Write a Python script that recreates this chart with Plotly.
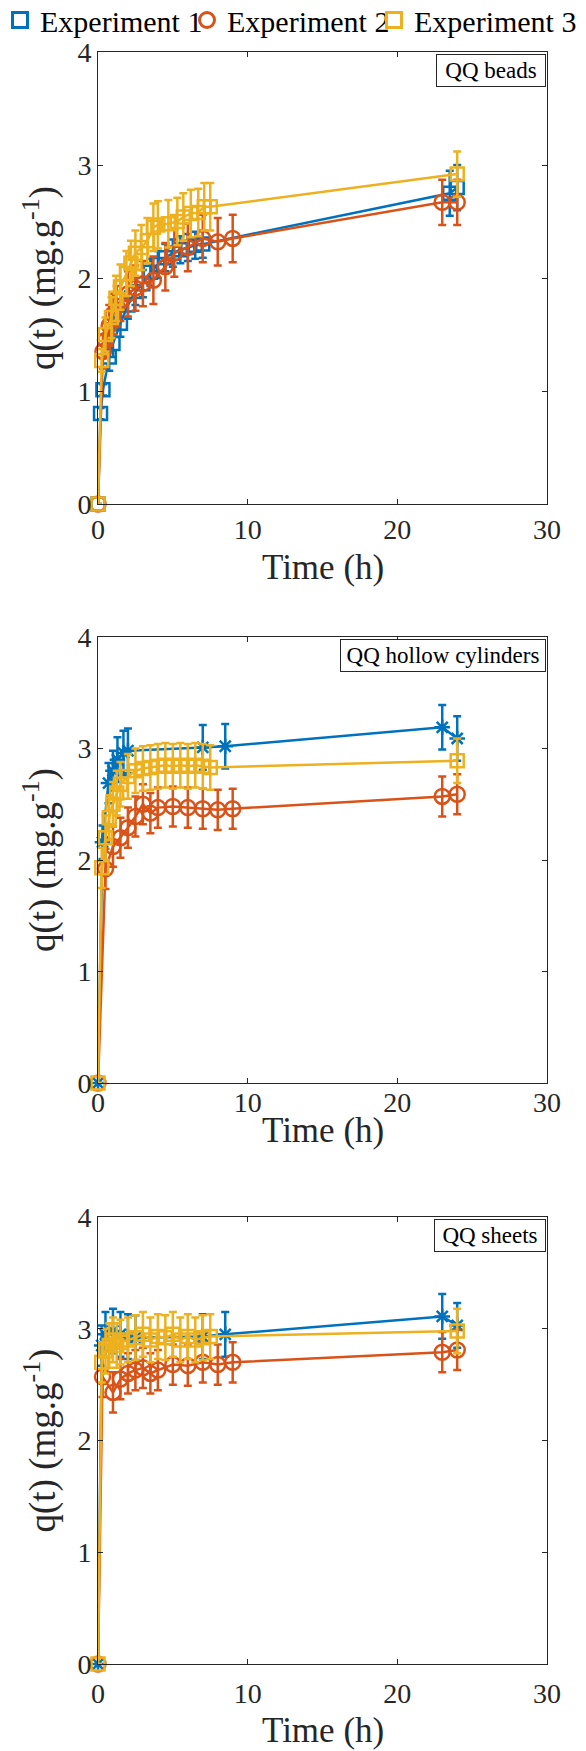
import plotly.graph_objects as go

# ---------------- data ----------------
series_names = ["Experiment 1", "Experiment 2", "Experiment 3"]
panel_labels = ["QQ beads", "QQ hollow cylinders", "QQ sheets"]
x_title = "Time (h)"
y_title = "q(t) (mg.g<sup>-1</sup>)"
x_ticks = [0, 10, 20, 30]
y_ticks = [0, 1, 2, 3, 4]

# Panel 1: QQ beads
beads_e1_t = [0, 0.17, 0.33, 0.75, 1.0, 1.5, 2.0, 2.5, 3.0, 3.5, 4.0, 4.5, 5.0, 5.5, 6.0, 6.5, 7.0, 23.5, 24.0]
beads_e1_q = [0, 0.80, 1.01, 1.30, 1.42, 1.60, 1.76, 1.88, 1.95, 2.05, 2.12, 2.18, 2.22, 2.25, 2.27, 2.29, 2.30, 2.75, 2.80]
beads_e1_err = [0, 0.05, 0.05, 0.12, 0.12, 0.12, 0.12, 0.12, 0.12, 0.12, 0.12, 0.12, 0.12, 0.12, 0.12, 0.12, 0.12, 0.20, 0.20]

beads_e2_t = [0, 0.33, 0.5, 0.75, 1.0, 1.25, 1.5, 2.0, 2.5, 3.0, 3.7, 4.5, 5.1, 6.0, 7.0, 8.0, 9.0, 23.0, 24.0]
beads_e2_q = [0, 1.35, 1.45, 1.58, 1.68, 1.75, 1.80, 1.86, 1.91, 1.95, 1.98, 2.10, 2.22, 2.27, 2.35, 2.32, 2.35, 2.67, 2.67]
beads_e2_err = [0, 0.15, 0.15, 0.18, 0.18, 0.18, 0.18, 0.20, 0.20, 0.20, 0.21, 0.21, 0.21, 0.21, 0.21, 0.21, 0.21, 0.20, 0.20]

beads_e3_t = [0, 0.25, 0.5, 0.9, 1.2, 1.5, 1.9, 2.2, 2.5, 2.9, 3.3, 3.7, 4.0, 4.7, 5.3, 5.7, 6.2, 6.7, 7.1, 7.5, 24.0]
beads_e3_q = [0, 1.27, 1.50, 1.65, 1.82, 1.92, 2.04, 2.13, 2.22, 2.27, 2.33, 2.45, 2.47, 2.48, 2.50, 2.54, 2.57, 2.58, 2.63, 2.63, 2.92]
beads_e3_err = [0, 0.10, 0.15, 0.18, 0.20, 0.20, 0.20, 0.20, 0.20, 0.20, 0.20, 0.21, 0.21, 0.21, 0.21, 0.21, 0.21, 0.21, 0.21, 0.21, 0.20]

# Panel 2: QQ hollow cylinders
hollow_e1_t = [0, 0.3, 0.7, 1.0, 1.3, 1.7, 2.0, 7.0, 8.5, 23.0, 24.0]
hollow_e1_q = [0, 2.16, 2.69, 2.80, 2.90, 2.96, 2.98, 3.01, 3.02, 3.19, 3.09]
hollow_e1_err = [0, 0.15, 0.18, 0.18, 0.20, 0.20, 0.20, 0.20, 0.20, 0.20, 0.20]

hollow_e2_t = [0, 0.5, 1.0, 1.5, 2.0, 2.5, 3.0, 3.5, 4.0, 5.0, 6.0, 7.0, 8.0, 9.0, 23.0, 24.0]
hollow_e2_q = [0, 1.92, 2.12, 2.20, 2.29, 2.39, 2.50, 2.42, 2.47, 2.48, 2.47, 2.46, 2.45, 2.46, 2.57, 2.59]
hollow_e2_err = [0, 0.18, 0.18, 0.18, 0.18, 0.18, 0.18, 0.18, 0.18, 0.18, 0.18, 0.18, 0.18, 0.18, 0.18, 0.18]

hollow_e3_t = [0, 0.25, 0.5, 0.75, 1.0, 1.25, 1.5, 2.0, 2.5, 3.0, 3.5, 4.0, 4.5, 5.0, 5.5, 6.0, 6.5, 7.0, 7.5, 24.0]
hollow_e3_q = [0, 1.93, 2.20, 2.38, 2.50, 2.60, 2.68, 2.75, 2.80, 2.82, 2.83, 2.84, 2.85, 2.84, 2.85, 2.84, 2.85, 2.84, 2.83, 2.89]
hollow_e3_err = [0, 0.18, 0.20, 0.20, 0.20, 0.20, 0.20, 0.20, 0.20, 0.20, 0.20, 0.20, 0.20, 0.20, 0.20, 0.20, 0.20, 0.20, 0.20, 0.20]

# Panel 3: QQ sheets
sheets_e1_t = [0, 0.25, 0.5, 1.0, 1.5, 2.0, 2.5, 7.0, 8.5, 23.0, 24.0]
sheets_e1_q = [0, 2.85, 2.95, 2.98, 2.95, 2.93, 2.92, 2.93, 2.95, 3.11, 3.03]
sheets_e1_err = [0, 0.18, 0.20, 0.20, 0.20, 0.20, 0.20, 0.20, 0.20, 0.20, 0.20]

sheets_e2_t = [0, 0.3, 1.0, 1.5, 2.0, 2.5, 3.0, 3.5, 4.0, 5.0, 6.0, 7.0, 8.0, 9.0, 23.0, 24.0]
sheets_e2_q = [0, 2.57, 2.43, 2.55, 2.60, 2.63, 2.65, 2.60, 2.63, 2.68, 2.67, 2.70, 2.68, 2.70, 2.79, 2.81]
sheets_e2_err = [0, 0.18, 0.18, 0.18, 0.18, 0.18, 0.18, 0.18, 0.18, 0.18, 0.18, 0.18, 0.18, 0.18, 0.18, 0.18]

sheets_e3_t = [0, 0.25, 0.5, 0.75, 1.0, 1.25, 1.5, 2.0, 2.5, 3.0, 3.5, 4.0, 4.5, 5.0, 5.5, 6.0, 6.5, 7.0, 7.5, 24.0]
sheets_e3_q = [0, 2.70, 2.80, 2.85, 2.90, 2.85, 2.88, 2.90, 2.92, 2.95, 2.90, 2.93, 2.92, 2.95, 2.90, 2.93, 2.90, 2.92, 2.93, 2.98]
sheets_e3_err = [0, 0.18, 0.20, 0.20, 0.20, 0.20, 0.20, 0.20, 0.20, 0.20, 0.20, 0.20, 0.20, 0.20, 0.20, 0.20, 0.20, 0.20, 0.20, 0.20]

# ---------------- styling ----------------
colors = ["#0072BD", "#D95319", "#EDB120"]
FONT = "Liberation Serif"
AXC = "#262626"
W, H = 586, 1751

panels = [
    [(beads_e1_t, beads_e1_q, beads_e1_err, "square-open"),
     (beads_e2_t, beads_e2_q, beads_e2_err, "circle-open"),
     (beads_e3_t, beads_e3_q, beads_e3_err, "square-open")],
    [(hollow_e1_t, hollow_e1_q, hollow_e1_err, "asterisk-open"),
     (hollow_e2_t, hollow_e2_q, hollow_e2_err, "circle-open"),
     (hollow_e3_t, hollow_e3_q, hollow_e3_err, "square-open")],
    [(sheets_e1_t, sheets_e1_q, sheets_e1_err, "asterisk-open"),
     (sheets_e2_t, sheets_e2_q, sheets_e2_err, "circle-open"),
     (sheets_e3_t, sheets_e3_q, sheets_e3_err, "square-open")],
]

# pixel geometry of the three plot areas (top, bottom)
x_left, x_right = 98, 547
rows_px = [(52, 504), (637, 1083), (1217, 1664)]
xtitle_off = [63, 47, 66]      # px below axis to title centre
xlabel_standoff = [0, -6, 4]
legend_entry_w = [142, 142, 168]

fig = go.Figure()

for p, series in enumerate(panels):
    ax = "" if p == 0 else str(p + 1)
    for s, (t, q, e, sym) in enumerate(series):
        fig.add_trace(go.Scatter(
            x=t, y=q, mode="lines+markers",
            xaxis="x" + ax, yaxis="y" + ax,
            line=dict(color=colors[s], width=2.5),
            marker=dict(symbol=sym, size=15 if "circle" in sym else 13,
                        color=colors[s], line=dict(color=colors[s], width=2.5)),
            error_y=dict(type="data", array=e, visible=True, color=colors[s],
                         thickness=2.5, width=4),
            cliponaxis=False, showlegend=False, name=series_names[s],
        ))

# legend-only entries (marker symbols like the reference legend)
legend_syms = ["square-open", "circle-open", "square-open"]
for s in range(3):
    fig.add_trace(go.Scatter(
        x=[None], y=[None], mode="markers", name=series_names[s],
        marker=dict(symbol=legend_syms[s], size=15, color=colors[s],
                    line=dict(color=colors[s], width=3)),
        showlegend=True, legendwidth=legend_entry_w[s],
    ))

layout = dict(
    width=W, height=H,
    margin=dict(l=0, r=0, t=0, b=0, autoexpand=False),
    paper_bgcolor="white", plot_bgcolor="white",
    font=dict(family=FONT, color=AXC, size=28),
    legend=dict(orientation="h", x=0, xanchor="left", y=1 + 6 / H, yanchor="top",
                font=dict(family=FONT, size=30, color="black"),
                itemwidth=30, bgcolor="rgba(0,0,0,0)"),
)

for p in range(3):
    top, bot = rows_px[p]
    ax = "" if p == 0 else str(p + 1)
    layout["xaxis" + ax] = dict(
        domain=[x_left / W, x_right / W], anchor="y" + ax,
        range=[0, 30], tickvals=x_ticks, ticks="inside", ticklen=5, tickwidth=1,
        tickcolor=AXC, showline=True, linecolor=AXC, linewidth=1, mirror="ticks",
        showgrid=False, zeroline=False, ticklabelstandoff=xlabel_standoff[p],
        tickfont=dict(family=FONT, size=28, color=AXC),
    )
    layout["yaxis" + ax] = dict(
        domain=[1 - bot / H, 1 - top / H], anchor="x" + ax,
        range=[0, 4], tickvals=y_ticks, ticks="inside", ticklen=5, tickwidth=1,
        tickcolor=AXC, showline=True, linecolor=AXC, linewidth=1, mirror="ticks",
        showgrid=False, zeroline=False,
        tickfont=dict(family=FONT, size=28, color=AXC),
    )

fig.update_layout(**layout)

box_widths = [104, 200, 106]
for p in range(3):
    top, bot = rows_px[p]
    ax = "" if p == 0 else str(p + 1)
    fig.add_annotation(
        text=panel_labels[p], xref="x" + ax + " domain", yref="y" + ax + " domain",
        x=1, y=1, xanchor="right", yanchor="top", xshift=-1, yshift=-2,
        showarrow=False, font=dict(family=FONT, size=23, color="black"),
        bordercolor=AXC, borderwidth=1, borderpad=2, bgcolor="white",
        width=box_widths[p], height=27,
    )
    # x axis title
    fig.add_annotation(
        text=x_title, xref="x" + ax + " domain", yref="paper",
        x=0.5, y=1 - (bot + xtitle_off[p]) / H, xanchor="center", yanchor="middle",
        showarrow=False, font=dict(family=FONT, size=35, color=AXC),
    )
    # y axis title
    fig.add_annotation(
        text=y_title, xref="paper", yref="y" + ax + " domain",
        x=40 / W, y=0.5, xanchor="center", yanchor="middle", textangle=-90,
        showarrow=False, font=dict(family=FONT, size=37, color=AXC),
    )

# remove the browser's default 8px page margin so the figure fills the window
fig.write_html("out.html", config={"displayModeBar": False},
               post_script="document.body.style.margin='0px';")
